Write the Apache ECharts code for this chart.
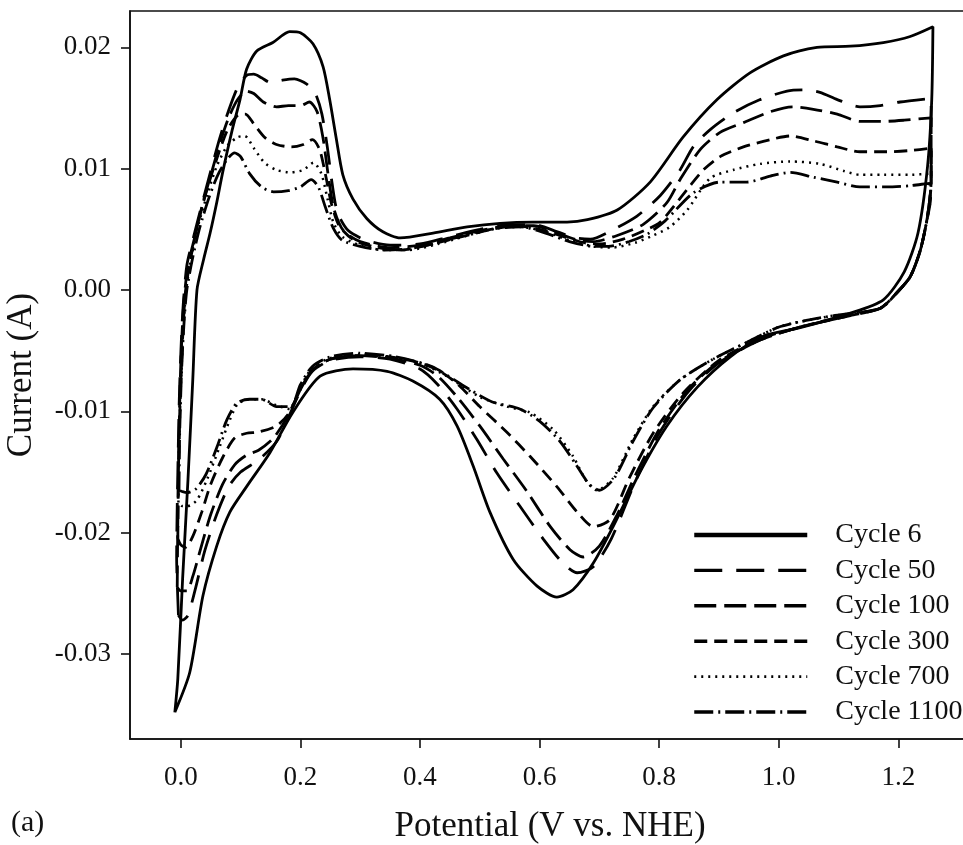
<!DOCTYPE html>
<html>
<head>
<meta charset="utf-8">
<script src="https://cdn.jsdelivr.net/npm/echarts@6/dist/echarts.min.js"></script>
<style>
html,body{margin:0;padding:0;background:#fff;}
#chart{width:963px;height:845px;}
</style>
</head>
<body>
<div id="chart"></div>
<script>
// ---- tick values ----
const potentialTicks = [0, 0.2, 0.4, 0.6, 0.8, 1.0, 1.2];
const currentTicks = [-0.03, -0.02, -0.01, 0, 0.01, 0.02];
const cycleNames = ['Cycle 6', 'Cycle 50', 'Cycle 100', 'Cycle 300', 'Cycle 700', 'Cycle 1100'];

// ---- data: [potential (V vs NHE), current (A)] ----
const cycle6Anodic = [[-0.01,-0.0348],[-0.005,-0.032],[0.003,-0.0238],[0.012,-0.0156],[0.02,-0.0074],[0.027,0.0],[0.038,0.0025],[0.049,0.0047],[0.06,0.0072],[0.07,0.0097],[0.085,0.013],[0.099,0.0157],[0.11,0.0182],[0.127,0.0197],[0.154,0.0204],[0.182,0.0213],[0.2,0.0212],[0.221,0.0203],[0.238,0.0184],[0.249,0.0157],[0.26,0.0125],[0.271,0.0095],[0.288,0.0075],[0.311,0.0059],[0.338,0.0048],[0.367,0.0043],[0.422,0.0047],[0.479,0.0052],[0.534,0.0055],[0.589,0.0056],[0.646,0.0056],[0.68,0.0058],[0.73,0.0066],[0.785,0.0089],[0.84,0.0126],[0.897,0.0157],[0.952,0.0179],[1.008,0.0193],[1.064,0.02],[1.12,0.0201],[1.175,0.0204],[1.22,0.0209],[1.258,0.0217]];
const cycle6Cathodic = [[1.256,0.0157],[1.249,0.0102],[1.233,0.0047],[1.21,0.0015],[1.175,-0.0008],[1.12,-0.0019],[1.036,-0.0031],[0.974,-0.0038],[0.919,-0.0055],[0.864,-0.008],[0.813,-0.0112],[0.768,-0.015],[0.723,-0.0195],[0.69,-0.0225],[0.656,-0.0247],[0.629,-0.0253],[0.596,-0.0244],[0.556,-0.0222],[0.517,-0.0183],[0.489,-0.0145],[0.462,-0.0112],[0.433,-0.009],[0.388,-0.0075],[0.345,-0.0067],[0.288,-0.0065],[0.233,-0.0071],[0.187,-0.0101],[0.149,-0.0134],[0.11,-0.0162],[0.082,-0.0183],[0.06,-0.0211],[0.037,-0.0252],[0.015,-0.0315],[-0.01,-0.0348]];

const cycle50Anodic = [[-0.004,-0.0268],[-0.007,-0.022],[-0.005,-0.015],[-0.002,-0.008],[0.003,-0.002],[0.01,0.002],[0.022,0.0045],[0.035,0.007],[0.05,0.0098],[0.065,0.0125],[0.08,0.0148],[0.095,0.0167],[0.11,0.0177],[0.122,0.0178],[0.135,0.0175],[0.15,0.0171],[0.17,0.0173],[0.19,0.0174],[0.21,0.017],[0.225,0.0162],[0.236,0.0145],[0.245,0.0118],[0.253,0.0088],[0.262,0.0064],[0.28,0.0049],[0.31,0.0041],[0.35,0.0037],[0.4,0.0038],[0.45,0.0044],[0.5,0.005],[0.55,0.0054],[0.59,0.0054],[0.63,0.0048],[0.66,0.0043],[0.685,0.0042],[0.72,0.0049],[0.763,0.0061],[0.802,0.0078],[0.835,0.0099],[0.857,0.0118],[0.885,0.0132],[0.924,0.0146],[0.969,0.0157],[1.014,0.0164],[1.041,0.0165],[1.069,0.0163],[1.098,0.0157],[1.136,0.0151],[1.17,0.0152],[1.203,0.0155],[1.255,0.0158]];
const cycle50Cathodic = [[1.255,0.009],[1.249,0.0061],[1.237,0.0033],[1.22,0.0011],[1.198,-0.0002],[1.17,-0.0015],[1.12,-0.0021],[1.04,-0.003],[0.97,-0.0041],[0.9,-0.006],[0.85,-0.0083],[0.8,-0.0118],[0.76,-0.0158],[0.72,-0.0205],[0.69,-0.0228],[0.663,-0.0233],[0.639,-0.0225],[0.606,-0.0205],[0.567,-0.0178],[0.529,-0.0151],[0.495,-0.0123],[0.462,-0.0098],[0.43,-0.0078],[0.4,-0.0065],[0.35,-0.0057],[0.3,-0.0055],[0.25,-0.0058],[0.22,-0.0067],[0.2,-0.0083],[0.18,-0.0105],[0.16,-0.0125],[0.13,-0.014],[0.1,-0.015],[0.08,-0.0162],[0.06,-0.0185],[0.04,-0.0215],[0.025,-0.0245],[0.012,-0.0268],[0.003,-0.0272],[-0.004,-0.0268]];

const cycle100Anodic = [[-0.006,-0.0245],[-0.005,-0.019],[-0.003,-0.012],[0.0,-0.006],[0.005,-0.001],[0.012,0.002],[0.024,0.0045],[0.037,0.0072],[0.052,0.0098],[0.066,0.0122],[0.08,0.0142],[0.095,0.0157],[0.11,0.0164],[0.122,0.0162],[0.138,0.0155],[0.16,0.0151],[0.18,0.0152],[0.2,0.0152],[0.215,0.0155],[0.228,0.0147],[0.238,0.0125],[0.247,0.0093],[0.256,0.0067],[0.272,0.0049],[0.3,0.004],[0.35,0.0035],[0.4,0.0037],[0.45,0.0043],[0.5,0.0049],[0.55,0.0053],[0.59,0.0053],[0.63,0.0047],[0.665,0.0041],[0.69,0.004],[0.73,0.0045],[0.773,0.0054],[0.813,0.0072],[0.835,0.0091],[0.869,0.0116],[0.902,0.013],[0.941,0.0138],[0.986,0.0147],[1.024,0.0151],[1.058,0.0149],[1.098,0.0145],[1.136,0.0139],[1.175,0.0139],[1.21,0.014],[1.255,0.0142]];
const cycle100Cathodic = [[1.255,0.009],[1.249,0.0061],[1.237,0.0033],[1.22,0.0011],[1.198,-0.0002],[1.17,-0.0015],[1.12,-0.0021],[1.04,-0.003],[0.97,-0.0041],[0.9,-0.0059],[0.85,-0.0081],[0.8,-0.0115],[0.76,-0.0153],[0.73,-0.0185],[0.70,-0.0211],[0.673,-0.022],[0.651,-0.0214],[0.618,-0.0195],[0.579,-0.0166],[0.539,-0.0139],[0.5,-0.0112],[0.462,-0.0088],[0.43,-0.0071],[0.4,-0.0062],[0.35,-0.0056],[0.3,-0.0054],[0.25,-0.0057],[0.22,-0.0066],[0.2,-0.0082],[0.18,-0.0103],[0.155,-0.0122],[0.13,-0.0132],[0.11,-0.0136],[0.09,-0.0144],[0.07,-0.016],[0.05,-0.0185],[0.035,-0.021],[0.02,-0.0236],[0.01,-0.0248],[0.0,-0.0248],[-0.006,-0.0245]];

const cycle300Anodic = [[-0.005,-0.0205],[-0.004,-0.015],[-0.001,-0.009],[0.003,-0.004],[0.008,0.0],[0.018,0.003],[0.03,0.0058],[0.045,0.0085],[0.06,0.0108],[0.078,0.0132],[0.095,0.0144],[0.108,0.0145],[0.122,0.0137],[0.14,0.0126],[0.16,0.012],[0.185,0.0118],[0.205,0.012],[0.22,0.0124],[0.232,0.0116],[0.242,0.0095],[0.252,0.0071],[0.265,0.0053],[0.29,0.0041],[0.33,0.0035],[0.37,0.0033],[0.42,0.0038],[0.47,0.0044],[0.52,0.005],[0.56,0.0053],[0.6,0.005],[0.64,0.0044],[0.675,0.0039],[0.7,0.0038],[0.74,0.0042],[0.775,0.0049],[0.802,0.0056],[0.847,0.0083],[0.874,0.0099],[0.902,0.011],[0.941,0.0118],[0.986,0.0124],[1.019,0.0127],[1.058,0.0123],[1.098,0.0118],[1.136,0.0114],[1.18,0.0114],[1.22,0.0115],[1.255,0.0117]];
const cycle300Cathodic = [[1.255,0.0089],[1.249,0.0061],[1.237,0.0033],[1.22,0.0011],[1.198,-0.0002],[1.17,-0.0015],[1.12,-0.002],[1.04,-0.003],[0.97,-0.004],[0.9,-0.0058],[0.84,-0.0085],[0.79,-0.0118],[0.75,-0.0155],[0.718,-0.0189],[0.69,-0.0195],[0.663,-0.0183],[0.629,-0.0162],[0.584,-0.0137],[0.545,-0.0117],[0.5,-0.0096],[0.462,-0.0077],[0.43,-0.0066],[0.4,-0.006],[0.35,-0.0055],[0.3,-0.0054],[0.25,-0.0057],[0.22,-0.0066],[0.2,-0.0082],[0.18,-0.0102],[0.16,-0.0112],[0.13,-0.0117],[0.11,-0.0118],[0.09,-0.0122],[0.07,-0.0138],[0.05,-0.016],[0.035,-0.0183],[0.02,-0.0203],[0.008,-0.0212],[0.0,-0.021],[-0.005,-0.0205]];

const cycle700Anodic = [[-0.004,-0.0175],[-0.003,-0.013],[0.0,-0.008],[0.004,-0.0035],[0.009,0.0],[0.018,0.0028],[0.03,0.0055],[0.045,0.008],[0.06,0.0102],[0.078,0.0119],[0.095,0.0126],[0.107,0.0127],[0.122,0.0117],[0.14,0.0105],[0.16,0.0099],[0.185,0.0097],[0.205,0.0099],[0.222,0.0105],[0.235,0.0096],[0.245,0.0076],[0.255,0.0056],[0.27,0.0044],[0.3,0.0037],[0.34,0.0033],[0.38,0.0033],[0.43,0.0038],[0.48,0.0045],[0.53,0.0051],[0.57,0.0052],[0.61,0.0048],[0.65,0.0041],[0.69,0.0036],[0.72,0.0035],[0.76,0.0039],[0.79,0.0045],[0.818,0.0052],[0.847,0.0066],[0.885,0.0092],[0.924,0.0099],[0.969,0.0104],[1.019,0.0106],[1.069,0.0104],[1.11,0.0098],[1.136,0.0095],[1.175,0.0095],[1.22,0.0095],[1.255,0.0096]];
const cycle700Cathodic = [[1.254,0.0075],[1.249,0.006],[1.237,0.0033],[1.22,0.0011],[1.198,-0.0002],[1.17,-0.0015],[1.08,-0.0022],[1.003,-0.003],[0.947,-0.0043],[0.89,-0.0057],[0.835,-0.0074],[0.79,-0.0096],[0.756,-0.0123],[0.723,-0.0155],[0.696,-0.0165],[0.679,-0.0158],[0.656,-0.0137],[0.623,-0.0115],[0.584,-0.0101],[0.545,-0.0096],[0.5,-0.0088],[0.445,-0.0071],[0.4,-0.006],[0.35,-0.0055],[0.3,-0.0053],[0.25,-0.0056],[0.22,-0.0064],[0.2,-0.008],[0.182,-0.0098],[0.16,-0.0095],[0.135,-0.009],[0.115,-0.009],[0.095,-0.0094],[0.082,-0.0107],[0.065,-0.0129],[0.044,-0.0156],[0.027,-0.0173],[0.012,-0.0178],[0.002,-0.0178],[-0.004,-0.0175]];

const cycle1100Anodic = [[-0.003,-0.0165],[-0.002,-0.012],[0.001,-0.007],[0.005,-0.003],[0.01,0.0],[0.02,0.0027],[0.032,0.0052],[0.047,0.0076],[0.062,0.0095],[0.078,0.0108],[0.09,0.0113],[0.1,0.011],[0.115,0.0096],[0.135,0.0085],[0.155,0.0081],[0.18,0.0082],[0.2,0.0085],[0.218,0.0091],[0.23,0.0085],[0.242,0.0068],[0.255,0.0051],[0.27,0.0041],[0.3,0.0036],[0.34,0.0033],[0.38,0.0034],[0.43,0.0039],[0.48,0.0046],[0.53,0.0051],[0.57,0.0052],[0.61,0.0047],[0.65,0.004],[0.69,0.0036],[0.715,0.0036],[0.75,0.004],[0.78,0.0046],[0.81,0.0057],[0.857,0.008],[0.902,0.0089],[0.947,0.0089],[0.986,0.0094],[1.019,0.0097],[1.058,0.0093],[1.098,0.0089],[1.136,0.0085],[1.18,0.0085],[1.22,0.0086],[1.252,0.0088]];
const cycle1100Cathodic = [[1.254,0.0075],[1.249,0.006],[1.237,0.0033],[1.22,0.0011],[1.198,-0.0002],[1.17,-0.0015],[1.08,-0.0022],[1.003,-0.003],[0.947,-0.0043],[0.89,-0.0057],[0.835,-0.0074],[0.79,-0.0097],[0.756,-0.0125],[0.725,-0.0155],[0.7,-0.0165],[0.683,-0.016],[0.66,-0.0143],[0.633,-0.0124],[0.6,-0.0108],[0.567,-0.0098],[0.52,-0.0092],[0.47,-0.0078],[0.42,-0.0063],[0.36,-0.0055],[0.3,-0.0052],[0.25,-0.0055],[0.22,-0.0063],[0.2,-0.0078],[0.184,-0.0096],[0.16,-0.0096],[0.135,-0.009],[0.115,-0.009],[0.094,-0.0093],[0.077,-0.0107],[0.06,-0.013],[0.042,-0.0152],[0.025,-0.0164],[0.01,-0.0167],[0.002,-0.0166],[-0.003,-0.0165]];

const cycles = [
  cycle6Anodic.concat(cycle6Cathodic),
  cycle50Anodic.concat(cycle50Cathodic),
  cycle100Anodic.concat(cycle100Cathodic),
  cycle300Anodic.concat(cycle300Cathodic),
  cycle700Anodic.concat(cycle700Cathodic),
  cycle1100Anodic.concat(cycle1100Cathodic)
];

// ---- styles ----
const FONT = 'Liberation Serif';
const dashes = ['solid', [28, 14], [22, 8], [13, 7], [2, 5], [19, 5, 2, 5]];
const widths = [2.8, 2.8, 2.8, 2.8, 2.5, 2.8];
const legendWidths = [4.5, 3.4, 3.4, 3.4, 2.6, 3.4];

const chart = echarts.init(document.getElementById('chart'), null, {renderer: 'canvas'});

const series = cycles.map((d, i) => ({
  name: cycleNames[i],
  type: 'line',
  data: d,
  showSymbol: false,
  symbol: 'none',
  smooth: 0.25,
  lineStyle: {color: '#000', width: widths[i], type: dashes[i]},
  itemStyle: {color: '#000'},
  animation: false
}));

chart.setOption({
  animation: false,
  backgroundColor: '#fff',
  grid: {
    left: 130, top: 11, width: 840, height: 728,
    show: true, borderColor: '#111', borderWidth: 1.6,
    backgroundColor: 'transparent',
    outerBoundsMode: 'none',
    containLabel: false
  },
  legend: {
    orient: 'vertical',
    left: 687, top: 516,
    itemWidth: 113, itemHeight: 24,
    itemGap: 7.4,
    data: cycleNames.map((n, i) => ({
      name: n,
      lineStyle: {width: legendWidths[i], type: dashes[i], color: '#000'},
      itemStyle: {opacity: 0, color: 'transparent', borderWidth: 0}
    })),
    itemStyle: {opacity: 0, color: 'transparent', borderWidth: 0},
    textStyle: {fontFamily: FONT, fontSize: 28, color: '#111', padding: [0, 0, 0, 23]},
    selectedMode: false
  },
  xAxis: {
    type: 'value',
    min: -0.085, max: 1.32,
    name: 'Potential (V vs. NHE)',
    nameLocation: 'middle', nameGap: 70,
    nameTextStyle: {fontFamily: FONT, fontSize: 35, color: '#111'},
    axisLine: {show: true, onZero: false, lineStyle: {color: '#111', width: 1.6}},
    axisTick: {show: true, inside: false, length: 9, customValues: potentialTicks, lineStyle: {color: '#111', width: 1.6}},
    axisLabel: {customValues: potentialTicks, margin: 25, fontFamily: FONT, fontSize: 27, color: '#111',
      formatter: v => v.toFixed(1)},
    splitLine: {show: false}
  },
  yAxis: {
    type: 'value',
    min: -0.037, max: 0.023,
    name: 'Current (A)',
    nameLocation: 'middle', nameGap: 91, nameRotate: 90,
    nameTextStyle: {fontFamily: FONT, fontSize: 35, color: '#111'},
    axisLine: {show: true, onZero: false, lineStyle: {color: '#111', width: 1.6}},
    axisTick: {show: true, inside: false, length: 9, customValues: currentTicks, lineStyle: {color: '#111', width: 1.6}},
    axisLabel: {customValues: currentTicks, margin: 19, fontFamily: FONT, fontSize: 27, color: '#111',
      formatter: v => v.toFixed(2)},
    splitLine: {show: false}
  },
  graphic: [{
    type: 'text', left: 11, top: 808,
    style: {text: '(a)', fontFamily: FONT, fontSize: 30, fill: '#111'}
  }],
  series: series
});
</script>
</body>
</html>
